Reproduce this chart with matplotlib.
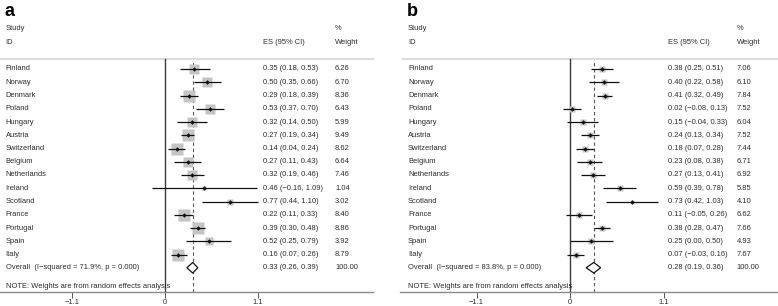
import numpy as np
import matplotlib
matplotlib.use("Agg")
import matplotlib.pyplot as plt
from matplotlib.patches import Polygon

plt.rcParams['font.family'] = ['Liberation Sans', 'DejaVu Sans']

countries = ["Finland", "Norway", "Denmark", "Poland", "Hungary", "Austria",
             "Switzerland", "Belgium", "Netherlands", "Ireland", "Scotland",
             "France", "Portugal", "Spain", "Italy"]

es_a = [0.35, 0.50, 0.29, 0.53, 0.32, 0.27, 0.14, 0.27, 0.32, 0.46, 0.77, 0.22, 0.39, 0.52, 0.16]
lo_a = [0.18, 0.35, 0.18, 0.37, 0.14, 0.19, 0.04, 0.11, 0.19, -0.16, 0.44, 0.11, 0.30, 0.25, 0.07]
hi_a = [0.53, 0.66, 0.39, 0.70, 0.50, 0.34, 0.24, 0.43, 0.46, 1.09, 1.10, 0.33, 0.48, 0.79, 0.26]
w_a = [6.26, 6.70, 8.36, 6.43, 5.99, 9.49, 8.62, 6.64, 7.46, 1.04, 3.02, 8.40, 8.86, 3.92, 8.79]
overall_a = (0.33, 0.26, 0.39)
overall_w_a = 100.00
i2_a = 71.9

es_b = [0.38, 0.40, 0.41, 0.02, 0.15, 0.24, 0.18, 0.23, 0.27, 0.59, 0.73, 0.11, 0.38, 0.25, 0.07]
lo_b = [0.25, 0.22, 0.32, -0.08, -0.04, 0.13, 0.07, 0.08, 0.13, 0.39, 0.42, -0.05, 0.28, 0.00, -0.03]
hi_b = [0.51, 0.58, 0.49, 0.13, 0.33, 0.34, 0.28, 0.38, 0.41, 0.78, 1.03, 0.26, 0.47, 0.50, 0.16]
w_b = [7.06, 6.10, 7.84, 7.52, 6.04, 7.52, 7.44, 6.71, 6.92, 5.85, 4.10, 6.62, 7.66, 4.93, 7.67]
overall_b = (0.28, 0.19, 0.36)
overall_w_b = 100.00
i2_b = 83.8

xticks = [-1.1, 0, 1.1]
xticklabels = ["\u22121.1", "0", "1.1"]

W, H = 778, 306
DPI = 100
fig = plt.figure(figsize=(W / DPI, H / DPI), dpi=DPI)

FS = 5.4
TXT = "#2a2a2a"
ROW0_PX = 69.0      # pixel y of first study row
ROW_PX = 13.25      # pixel spacing between rows
AX_BOTTOM_PX = 292.0


def fmt(v):
    s = "%.2f" % v
    return s.replace("-", "\u2212")


def px2row(py):
    return (py - ROW0_PX) / ROW_PX + 1


def draw_panel(letter, left_px, right_px, zero_px, scale, name_px, es_px, wt_px,
               sep_left_px, es, lo, hi, w, overall, overall_w, i2, box_k):
    width_px = right_px - left_px
    ax = fig.add_axes([left_px / W, (H - AX_BOTTOM_PX) / H, width_px / W, AX_BOTTOM_PX / H])
    ax.set_xlim(-(zero_px - left_px) / scale, (right_px - zero_px) / scale)
    ytop = px2row(0)
    ybot = px2row(AX_BOTTOM_PX)
    ax.set_ylim(ybot, ytop)
    ax.patch.set_alpha(0)
    for s in ["top", "left", "right"]:
        ax.spines[s].set_visible(False)
    ax.spines["bottom"].set_color("#8a8a8a")
    ax.spines["bottom"].set_linewidth(1.0)
    ax.set_yticks([])
    ax.set_xticks(xticks)
    ax.set_xticklabels(xticklabels, fontsize=FS, color=TXT)
    ax.tick_params(axis="x", length=4, width=0.7, color="#555555", pad=1.2, direction="out")

    tr = ax.get_yaxis_transform()
    fx = lambda px: (px - left_px) / width_px

    n = len(countries)
    rows = np.arange(1, n + 1)
    sep_row = px2row(59)

    # separator line
    ax.plot([fx(sep_left_px), 1.0], [sep_row, sep_row], transform=tr, color="#dcdcdc", lw=1.6,
            clip_on=False, zorder=1)
    # zero line
    frac = lambda r: (ybot - r) / (ybot - ytop)
    ax.axvline(0, ymin=0, ymax=frac(sep_row), color="#3a3a3a", lw=1.0, zorder=2)
    # overall dashed line
    ax.axvline(overall[0], ymin=0, ymax=frac(sep_row + 0.05), color="#555555", lw=0.8,
               ls=(0, (3, 2.5)), zorder=2)

    # boxes, CIs, points
    for r, e, l, h, ww in zip(rows, es, lo, hi, w):
        side_pt = box_k * np.sqrt(ww) * 72 / DPI
        ax.plot([e], [r], marker="s", ms=side_pt, mfc="#c4c4c4", mec="none", ls="none", zorder=3)
        ax.plot([l, h], [r, r], color="#111111", lw=0.9, solid_capstyle="butt", zorder=4)
        ax.plot([e], [r], marker="D", ms=2.3, mew=0, color="#111111", ls="none", zorder=5)

    # overall diamond
    orow = n + 1
    hh = 5.3 / ROW_PX
    oe, ol, oh = overall
    dia = Polygon([[ol, orow], [oe, orow - hh], [oh, orow], [oe, orow + hh]], closed=True,
                  facecolor="white", edgecolor="#111111", lw=0.9, zorder=4)
    ax.add_patch(dia)

    # texts
    kw = dict(transform=tr, fontsize=FS, color=TXT, va="center", ha="left", clip_on=False)
    ax.text(fx(name_px), px2row(29), "Study", **kw)
    ax.text(fx(name_px), px2row(43), "ID", **kw)
    ax.text(fx(es_px), px2row(43), "ES (95% CI)", **kw)
    ax.text(fx(wt_px), px2row(29), "%", **kw)
    ax.text(fx(wt_px), px2row(43), "Weight", **kw)
    for r, name, e, l, h, ww in zip(rows, countries, es, lo, hi, w):
        ax.text(fx(name_px), r, name, **kw)
        ax.text(fx(es_px), r, "%s (%s, %s)" % (fmt(e), fmt(l), fmt(h)), **kw)
        ax.text(fx(wt_px), r, "%.2f" % ww, **kw)
    ax.text(fx(name_px), orow, "Overall  (I\u2212squared = %.1f%%, p = 0.000)" % i2, **kw)
    ax.text(fx(es_px), orow, "%s (%s, %s)" % (fmt(oe), fmt(ol), fmt(oh)), **kw)
    ax.text(fx(wt_px), orow, "%.2f" % overall_w, **kw)
    ax.text(fx(name_px), px2row(286.5), "NOTE: Weights are from random effects analysis", **kw)

    # panel letter
    ax.text(fx(name_px - 1), px2row(15.5), letter, transform=tr, fontsize=13, fontweight="bold",
            color="black", ha="left", va="baseline", clip_on=False)
    return ax


draw_panel("a", 0, 373, 165.0, 84.1, 5.7, 263.0, 335.0, 0,
           es_a, lo_a, hi_a, w_a, overall_a, overall_w_a, i2_a, 4.0)
draw_panel("b", 400, 778, 570.0, 85.0, 408.0, 668.0, 736.5, 403,
           es_b, lo_b, hi_b, w_b, overall_b, overall_w_b, i2_b, 2.3)

fig.savefig("out.png", dpi=DPI)
